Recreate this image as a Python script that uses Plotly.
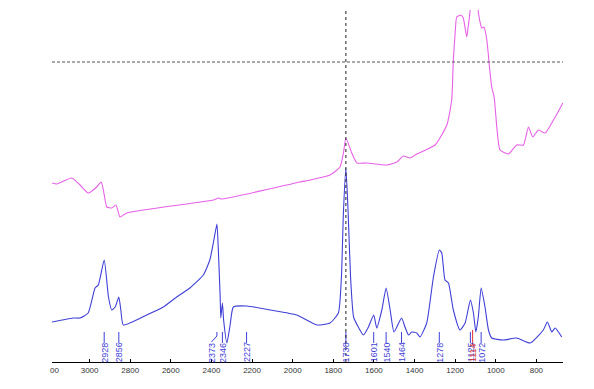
import plotly.graph_objects as go

# Lower (blue) spectrum: wavenumber (cm-1) and intensity (arb. units)
blue_wn = [3185, 3135, 3081, 3047, 3007, 2973, 2957, 2928, 2907, 2891, 2874, 2856, 2846, 2834,
           2719, 2637, 2571, 2506, 2440, 2408, 2388, 2373, 2366, 2357, 2354, 2346, 2340, 2324,
           2308, 2292, 2226, 2111, 1980, 1881, 1816, 1775, 1760, 1750, 1738, 1727, 1715, 1700,
           1677, 1652, 1627, 1601, 1586, 1561, 1540, 1520, 1501, 1464, 1447, 1430, 1414, 1389,
           1373, 1340, 1307, 1278, 1266, 1250, 1233, 1209, 1176, 1151, 1125, 1110, 1098, 1086,
           1072, 1053, 1036, 1020, 963, 897, 831, 766, 746, 724, 708, 675]
blue_int = [40, 42, 44, 44, 49, 74, 77, 102, 65, 52, 55, 65, 52, 37,
            47, 55, 65, 74, 87, 102, 122, 138, 112, 65, 44, 59, 42, 19,
            37, 55, 56, 52, 47, 37, 39, 49, 85, 150, 194, 150, 85, 45,
            35, 27, 35, 47, 34, 52, 74, 52, 30, 44, 35, 27, 30, 29,
            25, 39, 85, 112, 109, 82, 79, 52, 32, 39, 62, 49, 30, 45,
            74, 55, 32, 24, 22, 24, 19, 32, 40, 30, 34, 25]

# Upper (magenta) spectrum
pink_wn = [3185, 3161, 3088, 3047, 3006, 2965, 2943, 2932, 2915, 2891, 2870, 2850, 2817,
           2390, 2366, 2349, 1964, 1914, 1816, 1767, 1750, 1738, 1709, 1684, 1635, 1537,
           1487, 1455, 1422, 1389, 1299, 1241, 1217, 1209, 1200, 1192, 1172, 1160, 1143,
           1136, 1127, 1117, 1092, 1086, 1069, 1058, 1044, 1031, 1020, 1008, 995, 979,
           938, 897, 864, 839, 818, 790, 757, 716, 675, 670]
pink_int = [179, 178, 184, 177, 169, 175, 180, 172, 155, 154, 157, 145, 149,
            162, 164, 163, 180, 182, 187, 195, 209, 224, 209, 199, 199, 197,
            200, 206, 204, 208, 217, 237, 262, 302, 329, 345, 347, 344, 325,
            335, 350, 395, 395, 350, 334, 335, 322, 295, 275, 265, 235, 212,
            208, 217, 217, 235, 225, 232, 229, 242, 257, 259]

# Peak labels on the lower spectrum
peak_labels = ["2928", "2856", "2373", "2346", "2227", "1738", "1601", "1540", "1464",
               "1278", "1125", "1072"]
peak_wn = [2928, 2856, 2373, 2346, 2227, 1738, 1601, 1540, 1464, 1278, 1125, 1072]
red_label = "1114"
red_wn = 1114

x_ticks = [3000, 2800, 2600, 2400, 2200, 2000, 1800, 1600, 1400, 1200, 1000, 800]
cursor_wn = 1738
cursor_level = 300

BLUE = "#3f3fd8"
PINK = "#e860e8"

fig = go.Figure()
fig.add_trace(go.Scatter(x=pink_wn, y=pink_int, mode="lines",
                         line=dict(color=PINK, width=1.1, shape="spline", smoothing=0.5),
                         hoverinfo="skip"))
fig.add_trace(go.Scatter(x=blue_wn, y=blue_int, mode="lines",
                         line=dict(color=BLUE, width=1.1, shape="spline", smoothing=0.5),
                         hoverinfo="skip"))

# peak marker ticks
lx, ly = [], []
for w in peak_wn:
    if w == 2373:
        continue
    lx += [w, w, None]
    ly += [30, 19, None]
fig.add_trace(go.Scatter(x=lx, y=ly, mode="lines", line=dict(color=BLUE, width=1),
                         hoverinfo="skip"))
# leader for 2373 (label shifted left)
fig.add_trace(go.Scatter(x=[2373, 2373, 2400], y=[30, 26, 20], mode="lines",
                         line=dict(color=BLUE, width=1), hoverinfo="skip"))
fig.add_trace(go.Scatter(x=[red_wn, red_wn], y=[32, 17], mode="lines",
                         line=dict(color="#e03030", width=1), hoverinfo="skip"))

# cursor lines
fig.add_trace(go.Scatter(x=[cursor_wn, cursor_wn], y=[0, 352], mode="lines",
                         line=dict(color="#222222", width=1, dash="dot"), hoverinfo="skip"))
fig.add_trace(go.Scatter(x=[3185, 669], y=[cursor_level, cursor_level], mode="lines",
                         line=dict(color="#555555", width=1, dash="3px,2px"), hoverinfo="skip"))

label_shift = {"2373": 27}
for lab, w in zip(peak_labels, peak_wn):
    fig.add_annotation(x=w + label_shift.get(lab, 0), y=9.5, xref="x", yref="y",
                       text=lab, textangle=-90, showarrow=False,
                       font=dict(family="Liberation Sans, Arial", size=9, color=BLUE))
fig.add_annotation(x=red_wn, y=9.5, xref="x", yref="y", text=red_label, textangle=-90,
                   showarrow=False,
                   font=dict(family="Liberation Sans, Arial", size=9, color="#e03030"))

# clipped leftmost tick label (3200)
fig.add_annotation(x=3175, y=0, xref="x", yref="y", yshift=-8, text="00", showarrow=False,
                   font=dict(family="Liberation Sans, Arial", size=8, color="#333333"))

fig.update_layout(
    width=578, height=373,
    margin=dict(l=44, r=23, t=2, b=19),
    paper_bgcolor="white", plot_bgcolor="white",
    showlegend=False,
    xaxis=dict(range=[3185, 669], tickvals=x_ticks, ticks="inside", ticklen=3,
               tickcolor="black", showline=True, linecolor="black", linewidth=1,
               showgrid=False, zeroline=False,
               tickfont=dict(family="Liberation Sans, Arial", size=8, color="#333333")),
    yaxis=dict(range=[0, 352], visible=False, showgrid=False, zeroline=False),
)

fig.write_html("out.html")
